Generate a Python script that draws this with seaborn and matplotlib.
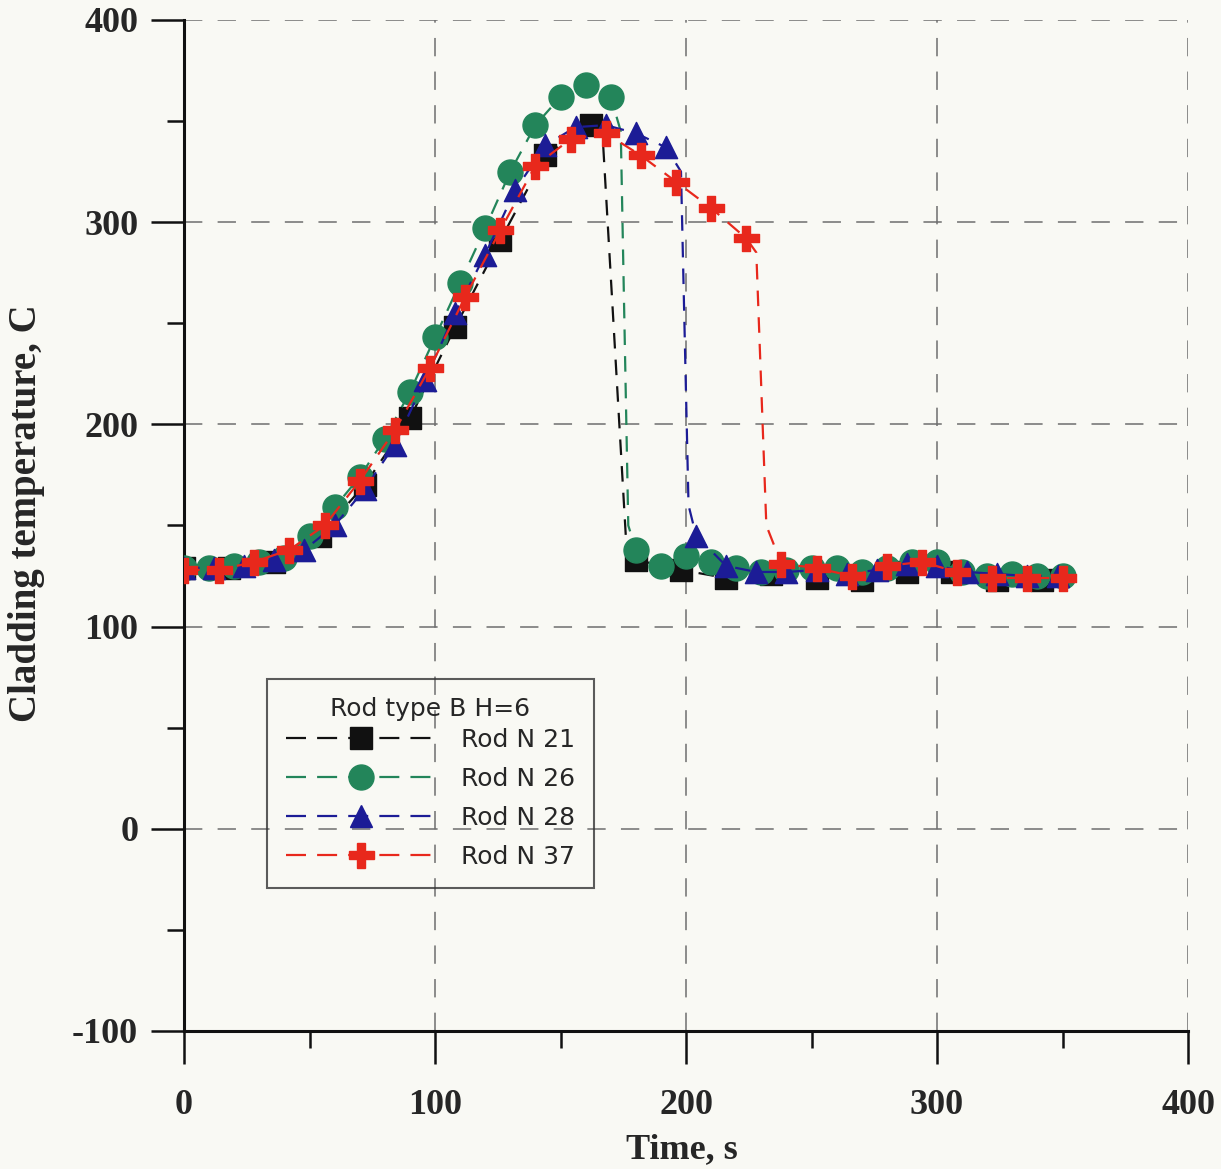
import numpy as np
import pandas as pd
import matplotlib
matplotlib.use("Agg")
import matplotlib.pyplot as plt
import seaborn as sns
from matplotlib.lines import Line2D
from matplotlib.ticker import MultipleLocator

# values (Time, s / Cladding temperature, C)
rods = ["Rod N 21", "Rod N 26", "Rod N 28", "Rod N 37"]

# marked points
t21 = [0, 18, 36, 54, 72, 90, 108, 126, 144, 162, 180, 198, 216, 234, 252, 270, 288, 306, 324, 342]
T21 = [129, 129, 132, 145, 170, 203, 248, 291, 333, 348, 133, 128, 124, 126, 124, 123, 127, 127, 123, 123]

t26 = [0, 10, 20, 30, 40, 50, 60, 70, 80, 90, 100, 110, 120, 130, 140, 150, 160, 170,
       180, 190, 200, 210, 220, 230, 240, 250, 260, 270, 280, 290, 300, 310, 320, 330, 340, 350]
T26 = [129, 129, 130, 132, 134, 145, 159, 174, 193, 216, 243, 270, 297, 325, 348, 362, 368, 362,
       138, 130, 135, 132, 129, 127, 128, 129, 129, 127, 129, 132, 132, 127, 125, 126, 125, 125]

t28 = [0, 12, 24, 36, 48, 60, 72, 84, 96, 108, 120, 132, 144, 156, 168, 180, 192,
       204, 216, 228, 240, 252, 264, 276, 288, 300, 312, 324, 336, 348]
T28 = [129, 129, 130, 133, 138, 150, 168, 190, 222, 255, 284, 316, 338, 347, 348, 344, 337,
       145, 130, 127, 127, 128, 126, 128, 131, 130, 127, 126, 125, 125]

t37 = [0, 14, 28, 42, 56, 70, 84, 98, 112, 126, 140, 154, 168, 182, 196, 210, 224,
       238, 252, 266, 280, 294, 308, 322, 336, 350]
T37 = [128, 128, 132, 138, 150, 172, 197, 228, 263, 296, 328, 341, 344, 333, 320, 307, 292,
       131, 129, 125, 130, 132, 127, 124, 124, 124]

# unmarked bends of the curves where they drop (quench fronts)
drop_t21 = [167, 176]
drop_T21 = [338, 145]
drop_t26 = [174, 177]
drop_T26 = [345, 150]
drop_t28 = [198, 201]
drop_T28 = [325, 160]
drop_t37 = [228, 232]
drop_T37 = [285, 150]

bg = "#f9f9f4"
dash = (0, (7, 5))

sns.set_style("ticks")
plt.rcParams["font.family"] = ["Liberation Serif", "DejaVu Serif"]
plt.rcParams["font.weight"] = "bold"
plt.rcParams["axes.unicode_minus"] = False

fig = plt.figure(figsize=(12.21, 11.69), dpi=100, facecolor=bg)
ax = fig.add_axes([0.1507, 0.1181, 0.8223, 0.8648])
ax.set_facecolor(bg)

series = [
    (t21, T21, drop_t21, drop_T21, "s", 16, "#111111"),
    (t26, T26, drop_t26, drop_T26, "o", 18, "#23855a"),
    (t28, T28, drop_t28, drop_T28, "^", 16, "#1c1c96"),
    (t37, T37, drop_t37, drop_T37, "P", 18, "#e8281c"),
]
handles = []
for i, (name, (t, T, dt, dT, mk, ms, col)) in enumerate(zip(rods, series)):
    line = pd.concat([pd.DataFrame({"t": t, "T": T}), pd.DataFrame({"t": dt, "T": dT})])
    line = line.sort_values("t")
    sns.lineplot(data=line, x="t", y="T", ax=ax, color=col, linestyle=dash,
                 linewidth=1.6, sort=False, zorder=2 + i)
    sns.scatterplot(x=t, y=T, ax=ax, marker=mk, s=ms ** 2, color=col,
                    edgecolor=col, linewidth=1, zorder=2.5 + i)
    handles.append(Line2D([], [], color=col, linestyle=(0, (9, 5)), linewidth=1.6, marker=mk,
                          markersize=ms, markeredgecolor=col, label=name))

ax.set_xlim(0, 400)
ax.set_ylim(-100, 400)
ax.xaxis.set_major_locator(MultipleLocator(100))
ax.xaxis.set_minor_locator(MultipleLocator(50))
ax.yaxis.set_major_locator(MultipleLocator(100))
ax.yaxis.set_minor_locator(MultipleLocator(50))

ax.grid(True, which="major", color="#6e6e6e", linestyle=(0, (12, 10)), linewidth=1.1)
ax.set_axisbelow(True)

for s in ["top", "right"]:
    ax.spines[s].set_visible(False)
for s in ["left", "bottom"]:
    ax.spines[s].set_linewidth(2.2)
    ax.spines[s].set_color("#111111")

ax.tick_params(which="major", direction="out", length=24, width=1.8, labelsize=26, color="#111111")
ax.tick_params(which="minor", direction="out", length=12, width=1.8, color="#111111")
ax.tick_params(axis="x", which="major", pad=18)
ax.tick_params(axis="y", which="major", pad=9)

ax.set_xlabel("Time, s", fontsize=26, fontweight="bold")
ax.xaxis.set_label_coords(0.496, -0.101)
ax.set_ylabel("Cladding temperature, C", fontsize=28, fontweight="bold")
ax.yaxis.set_label_coords(-0.138, 0.512)

leg = ax.legend(handles=handles, title="Rod type B H=6", loc="lower left",
                bbox_to_anchor=(0.0827, 0.1414), borderaxespad=0, frameon=True,
                fancybox=False, edgecolor="#333333", facecolor="none",
                prop={"family": "DejaVu Sans", "size": 18, "weight": "normal"},
                title_fontproperties={"family": "DejaVu Sans", "size": 18, "weight": "normal"},
                handlelength=6, handletextpad=1.0, labelspacing=0.6, borderpad=0.75)
leg._legend_box.sep = 5  # title sits closer to the entries
leg.get_frame().set_linewidth(1.5)

fig.savefig("out.png", dpi=100, facecolor=bg)
